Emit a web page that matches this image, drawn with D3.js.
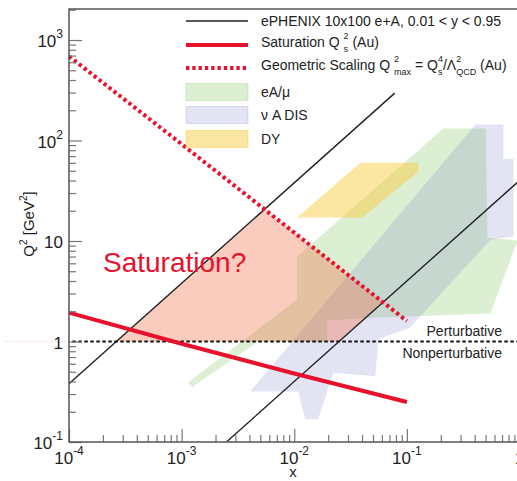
<!DOCTYPE html>
<meta charset="utf-8">
<script src="https://d3js.org/d3.v7.min.js"></script>
<style>
  body { margin: 0; background: #fff; }
  svg text { font-family: "Liberation Sans", Arial, sans-serif; }
</style>
<div id="chart"></div>
<script>
// ePHENIX 10x100 acceptance lines (y = 0.95 and y = 0.01)
var ephenixHiX = [1e-4, 0.078], ephenixHiQ2 = [0.38, 296];
var ephenixLoX = [0.0025, 1], ephenixLoQ2 = [0.1, 40];
// saturation scale Qs^2 (Au) and geometric scaling limit
var satX = [1e-4, 1e-3, 1e-2, 1e-1], satQ2 = [1.94, 0.95, 0.48, 0.25];
var geoX = [1e-4, 1e-3, 1e-2, 1e-1], geoQ2 = [690, 92, 12.1, 1.6];
// "Saturation?" region
var satRegionX = [2.63e-4, 0.00544, 0.0615, 0.025], satRegionQ2 = [1, 20.7, 2.46, 1];
// existing data coverage
var eAX = [0.00114, 0.00124, 0.00479, 0.0196, 0.0196, 0.0547, 0.552, 0.96, 0.52, 0.50, 0.211, 0.0106, 0.0106];
var eAQ2 = [0.39, 0.35, 1.0, 1.0, 1.62, 1.73, 1.9, 10.1, 10.8, 132, 132, 7.0, 2.62];
var nuX = [0.00406, 0.406, 0.72, 0.72, 0.885, 0.885, 0.552, 0.107, 0.0558, 0.0525, 0.0222, 0.0163, 0.0125, 0.0109];
var nuQ2 = [0.318, 144, 144, 66, 66, 11.1, 10.3, 1.38, 1.05, 0.45, 0.49, 0.168, 0.168, 0.318];
var dyX = [0.0106, 0.0386, 0.126, 0.126, 0.040], dyQ2 = [17.1, 60, 60, 49, 17.1];
// tick labels
var xTickVals = [1e-4, 1e-3, 1e-2, 1e-1, 1], xTickExp = ["-4", "-3", "-2", "-1", ""];
var yTickVals = [0.1, 1, 10, 100, 1000], yTickBase = ["10", "1", "10", "10", "10"], yTickExp = ["-1", "", "", "2", "3"];

var red = "#e8112d";
var W = 517, H = 481;
var box = {left: 69, right: 519.5, top: 9, bottom: 442};

var svg = d3.select("#chart").append("svg")
    .attr("width", W).attr("height", H);

var x = d3.scaleLog().domain([1e-4, 1]).range([box.left, box.right]);
var y = d3.scaleLog().domain([0.1, 2035]).range([box.bottom, box.top]);

var line = d3.line().x(function(d) { return x(d[0]); }).y(function(d) { return y(d[1]); });
var area = function(xs, ys) { return line(d3.zip(xs, ys)) + "Z"; };

var plot = svg.append("g");

// coverage regions
plot.append("path").attr("d", area(eAX, eAQ2)).attr("fill", "rgba(150,205,120,0.33)");
plot.append("path").attr("d", area(nuX, nuQ2)).attr("fill", "rgba(110,120,195,0.2)");
plot.append("path").attr("d", area(dyX, dyQ2)).attr("fill", "rgba(248,205,70,0.5)");
plot.append("path").attr("d", area(satRegionX, satRegionQ2)).attr("fill", "rgba(240,110,70,0.35)");

// faint line left of the axis at Q2 = 1
svg.append("line").attr("x1", 5).attr("x2", box.left).attr("y1", y(1)).attr("y2", y(1))
  .attr("stroke", "rgba(240,120,90,0.12)").attr("stroke-width", 1.5);

// ePHENIX lines
[[ephenixHiX, ephenixHiQ2], [ephenixLoX, ephenixLoQ2]].forEach(function(s) {
  plot.append("path").attr("d", line(d3.zip(s[0], s[1])))
    .attr("fill", "none").attr("stroke", "#222").attr("stroke-width", 1.4);
});

// perturbative boundary
plot.append("line")
  .attr("x1", x(1.07e-4)).attr("x2", W).attr("y1", y(1)).attr("y2", y(1))
  .attr("stroke", "#111").attr("stroke-width", 2).attr("stroke-dasharray", "3.5,2.5");

plot.append("path").attr("d", line(d3.zip(satX, satQ2)))
  .attr("fill", "none").attr("stroke", red).attr("stroke-width", 4);
plot.append("path").attr("d", line(d3.zip(geoX, geoQ2)))
  .attr("fill", "none").attr("stroke", red).attr("stroke-width", 4).attr("stroke-dasharray", "3.3,3");

svg.append("text").attr("x", 103).attr("y", 272).attr("font-size", 28).attr("fill", red).text("Saturation?");
svg.append("text").attr("x", 502).attr("y", 336).attr("text-anchor", "end").attr("font-size", 14).attr("fill", "#222").text("Perturbative");
svg.append("text").attr("x", 502).attr("y", 358).attr("text-anchor", "end").attr("font-size", 14).attr("fill", "#222").text("Nonperturbative");

// axes: ticks point inward
var isMajor = function(d) { var l = Math.log10(d); return Math.abs(l - Math.round(l)) < 1e-6; };

var yAxis = svg.append("g").attr("transform", "translate(" + box.left + ",0)")
  .call(d3.axisRight(y).tickValues(y.ticks().filter(function(d) { return d <= 2035; })).tickFormat(""));
yAxis.select(".domain").remove();
yAxis.selectAll(".tick line").attr("x2", function(d) { return isMajor(d) ? 13 : 7; })
  .attr("stroke", "#777").attr("stroke-width", 1.2);

var xAxis = svg.append("g").attr("transform", "translate(0," + box.bottom + ")")
  .call(d3.axisTop(x).tickValues(x.ticks()).tickFormat(""));
xAxis.select(".domain").remove();
xAxis.selectAll(".tick line").attr("y2", function(d) { return isMajor(d) ? -13 : -7; })
  .attr("stroke", "#777").attr("stroke-width", 1.2);

svg.append("path")
  .attr("d", "M" + box.left + "," + box.bottom + "V" + box.top + "H" + box.right + "V" + box.bottom + "Z")
  .attr("fill", "none").attr("stroke", "#555").attr("stroke-width", 1.5);

// tick labels
xTickVals.forEach(function(v, i) {
  var t = svg.append("text").attr("x", x(v)).attr("y", 464).attr("text-anchor", "middle")
    .attr("font-size", 17).attr("fill", "#222");
  t.append("tspan").text(xTickExp[i] ? "10" : "1");
  if (xTickExp[i]) t.append("tspan").attr("dy", -9).attr("font-size", 12).text(xTickExp[i]);
});
yTickVals.forEach(function(v, i) {
  var t = svg.append("text").attr("x", 63).attr("y", Math.min(y(v) + 7, 450)).attr("text-anchor", "end")
    .attr("font-size", 17).attr("fill", "#222");
  t.append("tspan").text(yTickBase[i]);
  if (yTickExp[i]) t.append("tspan").attr("dy", -9).attr("font-size", 12).text(yTickExp[i]);
});

svg.append("text").attr("x", 293).attr("y", 477).attr("text-anchor", "middle")
  .attr("font-size", 15).attr("fill", "#222").text("x");

var yt = svg.append("text").attr("transform", "translate(34,224) rotate(-90)")
  .attr("text-anchor", "middle").attr("font-size", 15).attr("fill", "#222");
yt.append("tspan").text("Q");
yt.append("tspan").attr("dy", -7).attr("font-size", 10).text("2");
yt.append("tspan").attr("dy", 7).text(" [GeV");
yt.append("tspan").attr("dy", -7).attr("font-size", 10).text("2");
yt.append("tspan").attr("dy", 7).text("]");

// legend
var legRows = [21, 45, 68, 92, 115, 139];
var lg = svg.append("g");
lg.append("line").attr("x1", 186).attr("x2", 248).attr("y1", legRows[0]).attr("y2", legRows[0])
  .attr("stroke", "#222").attr("stroke-width", 1.4);
lg.append("line").attr("x1", 186).attr("x2", 248).attr("y1", legRows[1]).attr("y2", legRows[1])
  .attr("stroke", red).attr("stroke-width", 4);
lg.append("line").attr("x1", 186).attr("x2", 248).attr("y1", legRows[2]).attr("y2", legRows[2])
  .attr("stroke", red).attr("stroke-width", 4).attr("stroke-dasharray", "3.3,3");
var swatches = ["rgba(150,205,120,0.33)", "rgba(110,120,195,0.2)", "rgba(248,205,70,0.5)"];
swatches.forEach(function(c, i) {
  lg.append("rect").attr("x", 186).attr("y", legRows[i + 3] - 8.5).attr("width", 62).attr("height", 17)
    .attr("fill", c).attr("stroke", c);
});

// text with stacked super/subscripts
function richText(yy, parts) {
  var t = lg.append("text").attr("x", 261).attr("y", yy).attr("font-size", 14).attr("fill", "#222");
  var pend = null;
  parts.forEach(function(p) {
    if (typeof p === "string") {
      var s = t.append("tspan").text(p);
      if (pend) s.attr("dx", pend.dx).attr("dy", pend.dy);
      pend = null;
    } else {
      var sup = t.append("tspan").attr("font-size", 9).attr("dy", -8).text(p[0]);
      var supLen = sup.node().getComputedTextLength();
      var sub = t.append("tspan").attr("font-size", 9).attr("dx", -supLen).attr("dy", 13).text(p[1]);
      var subLen = sub.node().getComputedTextLength();
      pend = {dx: Math.max(0, supLen - subLen), dy: -5};
    }
  });
}
richText(legRows[0] + 5, ["ePHENIX 10x100 e+A, 0.01 < y < 0.95"]);
richText(legRows[1] + 2, ["Saturation Q ", ["2", "s"], " (Au)"]);
richText(legRows[2] + 2, ["Geometric Scaling Q ", ["2", "max"], " = Q", ["4", "s"], "/\u039B", ["2", "QCD"], " (Au)"]);
richText(legRows[3] + 5, ["eA/\u03BC"]);
richText(legRows[4] + 5, ["\u03BD A DIS"]);
richText(legRows[5] + 5, ["DY"]);
</script>
